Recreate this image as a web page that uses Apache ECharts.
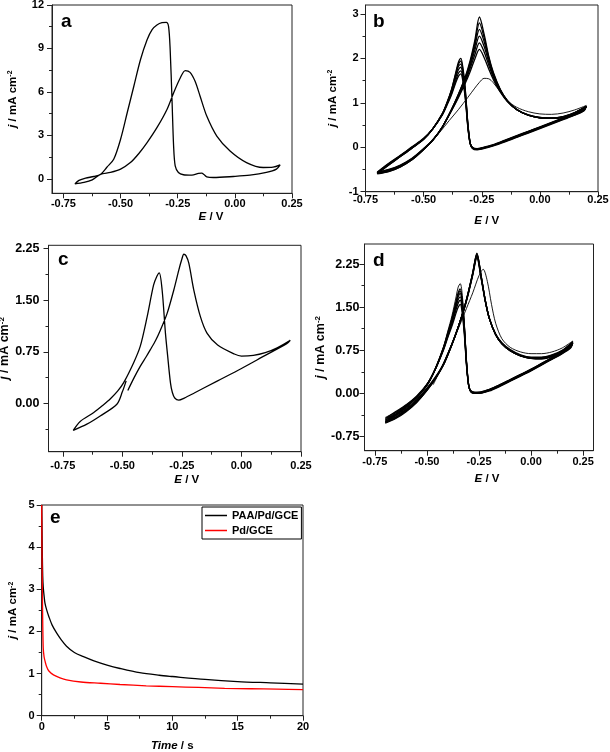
<!DOCTYPE html>
<html><head><meta charset="utf-8">
<script src="https://cdn.jsdelivr.net/npm/echarts@6/dist/echarts.min.js"></script>
<style>html,body{margin:0;padding:0;background:#fff}#c{width:610px;height:752px}</style>
</head><body><div id="c"></div>
<script>
// ---------- tick values ----------
const cvXTicks = [-0.75, -0.5, -0.25, 0, 0.25];
const cvXMinor = [-0.625, -0.375, -0.125, 0.125];
const aYTicks = [0, 3, 6, 9, 12];
const aYMinor = [1.5, 4.5, 7.5, 10.5];
const bYTicks = [-1, 0, 1, 2, 3];
const bYMinor = [-0.5, 0.5, 1.5, 2.5];
const cYTicks = [0, 0.75, 1.5, 2.25];
const cYMinor = [-0.375, 0.375, 1.125, 1.875];
const dYTicks = [-0.75, 0, 0.75, 1.5, 2.25];
const dYMinor = [-0.375, 0.375, 1.125, 1.875];
const eXTicks = [0, 5, 10, 15, 20];
const eXMinor = [2.5, 7.5, 12.5, 17.5];
const eYTicks = [0, 1, 2, 3, 4, 5];
const eYMinor = [0.5, 1.5, 2.5, 3.5, 4.5];

// ---------- panel a (single CV) ----------
const aEf = [-0.70,-0.66,-0.624,-0.588,-0.544,-0.50,-0.457,-0.42,-0.384,-0.341,-0.297,-0.268,-0.239,-0.217,-0.196,-0.174,-0.152,-0.123,-0.079,-0.021,0.051,0.124,0.167,0.198];
const aJf = [-0.35,-0.25,-0.07,0.30,0.44,0.67,1.12,1.75,2.50,3.53,4.79,5.93,6.96,7.47,7.35,6.73,5.70,4.33,2.95,1.92,1.12,0.78,0.80,0.96];
const aEr = [0.182,0.138,0.066,-0.007,-0.094,-0.123,-0.135,-0.145,-0.159,-0.188,-0.225,-0.247,-0.261,-0.268,-0.275,-0.283,-0.290,-0.300,-0.319,-0.341,-0.362,-0.384,-0.413,-0.442,-0.471,-0.50,-0.53,-0.56,-0.588,-0.617,-0.653,-0.682,-0.70];
const aJr = [0.67,0.44,0.25,0.16,0.09,0.14,0.30,0.39,0.37,0.25,0.28,0.44,0.89,2.27,5.47,8.91,10.51,10.80,10.78,10.62,10.30,9.60,8.22,6.39,4.56,2.73,1.35,0.80,0.30,0.16,0.05,-0.11,-0.35];

// ---------- panel b (multi-cycle CV) ----------
const bE = [-0.70,-0.65,-0.60,-0.55,-0.50,-0.46,-0.42,-0.38,-0.35,-0.32,-0.30,-0.28,-0.26,-0.24,-0.22,-0.20,-0.17,-0.14,-0.10,-0.05,0.00,0.05,0.10,0.15,0.20,
            0.19,0.15,0.10,0.05,0.00,-0.05,-0.10,-0.15,-0.20,-0.25,-0.27,-0.29,-0.30,-0.31,-0.32,-0.33,-0.34,-0.35,-0.36,-0.38,-0.40,-0.42,-0.46,-0.50,-0.55,-0.60,-0.65,-0.70];
const bJ1 = [-0.56,-0.50,-0.40,-0.25,-0.03,0.17,0.45,0.82,1.12,1.45,1.70,1.98,2.20,2.02,1.76,1.52,1.24,1.03,0.85,0.73,0.67,0.66,0.69,0.78,0.92,
             0.86,0.76,0.66,0.56,0.46,0.36,0.26,0.16,0.06,-0.01,-0.03,0.00,0.08,0.45,1.05,1.45,1.65,1.60,1.48,1.18,0.94,0.72,0.42,0.20,0.01,-0.18,-0.36,-0.56];
const bJ2 = [-0.57,-0.51,-0.41,-0.26,-0.04,0.17,0.45,0.83,1.14,1.49,1.77,2.08,2.35,2.15,1.85,1.57,1.26,1.04,0.85,0.73,0.67,0.66,0.69,0.78,0.92,
             0.85,0.75,0.65,0.55,0.45,0.35,0.25,0.15,0.05,-0.02,-0.04,-0.01,0.09,0.48,1.10,1.52,1.72,1.67,1.53,1.21,0.96,0.73,0.42,0.19,0.00,-0.19,-0.37,-0.57];
const bJ3 = [-0.58,-0.52,-0.42,-0.26,-0.04,0.16,0.45,0.84,1.16,1.52,1.83,2.18,2.50,2.27,1.92,1.61,1.27,1.04,0.85,0.72,0.66,0.65,0.68,0.77,0.92,
             0.85,0.75,0.65,0.55,0.45,0.35,0.25,0.15,0.05,-0.02,-0.04,-0.01,0.09,0.50,1.15,1.58,1.80,1.75,1.60,1.25,0.97,0.74,0.42,0.19,0.00,-0.19,-0.38,-0.58];
const bJ4 = [-0.58,-0.53,-0.43,-0.27,-0.05,0.16,0.45,0.84,1.18,1.55,1.87,2.26,2.65,2.38,1.98,1.64,1.28,1.05,0.85,0.72,0.66,0.65,0.68,0.77,0.92,
             0.84,0.74,0.64,0.54,0.44,0.34,0.24,0.14,0.04,-0.03,-0.05,-0.02,0.10,0.52,1.18,1.65,1.87,1.82,1.65,1.27,0.98,0.74,0.42,0.18,-0.01,-0.20,-0.39,-0.58];
const bJ5 = [-0.59,-0.54,-0.44,-0.28,-0.05,0.16,0.45,0.85,1.19,1.58,1.91,2.33,2.80,2.47,2.02,1.66,1.29,1.05,0.85,0.72,0.66,0.65,0.68,0.77,0.92,
             0.83,0.73,0.63,0.53,0.43,0.33,0.23,0.13,0.04,-0.03,-0.05,-0.02,0.10,0.54,1.22,1.70,1.94,1.87,1.69,1.29,0.99,0.75,0.42,0.18,-0.02,-0.21,-0.40,-0.59];
const bJ6 = [-0.60,-0.55,-0.44,-0.28,-0.05,0.16,0.45,0.85,1.20,1.60,1.95,2.40,2.93,2.55,2.05,1.68,1.30,1.05,0.85,0.72,0.66,0.65,0.68,0.77,0.92,
             0.82,0.72,0.62,0.52,0.42,0.32,0.22,0.12,0.03,-0.04,-0.06,-0.03,0.10,0.55,1.25,1.75,2.00,1.92,1.72,1.30,1.00,0.75,0.42,0.18,-0.02,-0.21,-0.40,-0.60];
const bE0 = [-0.47,-0.43,-0.39,-0.35,-0.31,-0.28,-0.26,-0.24,-0.22,-0.20,-0.17,-0.14,-0.10,-0.05,0.00,0.05,0.10,0.15,0.20];
const bJ0 = [0.10,0.34,0.60,0.85,1.12,1.33,1.46,1.55,1.54,1.45,1.24,1.05,0.90,0.80,0.75,0.74,0.77,0.84,0.94];

// ---------- panel c (single CV) ----------
const cEf = [-0.477,-0.45,-0.425,-0.40,-0.383,-0.36,-0.34,-0.312,-0.284,-0.263,-0.25,-0.242,-0.233,-0.221,-0.20,-0.172,-0.144,-0.10,-0.03,0.00,0.05,0.10,0.15,0.205];
const cJf = [0.19,0.38,0.54,0.68,0.78,0.92,1.07,1.31,1.65,1.94,2.10,2.17,2.15,2.04,1.65,1.26,1.02,0.85,0.72,0.69,0.70,0.74,0.81,0.92];
const cEr = [0.19,0.10,0.00,-0.10,-0.20,-0.24,-0.263,-0.28,-0.29,-0.298,-0.31,-0.319,-0.333,-0.345,-0.355,-0.369,-0.396,-0.425,-0.453,-0.495,-0.52,-0.55,-0.58,-0.62,-0.677,-0.706];
const cJr = [0.87,0.70,0.51,0.33,0.15,0.08,0.05,0.08,0.16,0.30,0.70,1.02,1.65,1.90,1.85,1.72,1.26,0.83,0.59,0.30,0.18,0.07,-0.02,-0.13,-0.26,-0.39];
const cEf2 = [-0.706,-0.649,-0.593,-0.523,-0.50,-0.484];
const cJf2 = [-0.39,-0.30,-0.18,-0.01,0.17,0.33];

// ---------- panel d (multi-cycle CV) ----------
const dE = [-0.70,-0.65,-0.60,-0.55,-0.50,-0.46,-0.42,-0.38,-0.35,-0.32,-0.30,-0.28,-0.26,-0.24,-0.22,-0.20,-0.17,-0.14,-0.10,-0.05,0.00,0.05,0.10,0.15,0.20,
            0.19,0.15,0.10,0.05,0.00,-0.05,-0.10,-0.15,-0.20,-0.25,-0.27,-0.29,-0.30,-0.31,-0.32,-0.33,-0.34,-0.35,-0.36,-0.38,-0.40,-0.42,-0.46,-0.50,-0.55,-0.60,-0.65,-0.70];
const dJ1 = [-0.44,-0.37,-0.26,-0.11,0.09,0.28,0.52,0.86,1.15,1.48,1.75,2.06,2.36,2.00,1.60,1.30,1.03,0.88,0.76,0.67,0.63,0.63,0.67,0.75,0.90,
             0.82,0.72,0.62,0.52,0.42,0.33,0.24,0.15,0.07,0.02,0.02,0.05,0.14,0.48,1.00,1.38,1.55,1.50,1.40,1.17,0.97,0.76,0.42,0.16,-0.05,-0.20,-0.32,-0.44];
const dJ2 = [-0.46,-0.39,-0.28,-0.13,0.08,0.27,0.51,0.86,1.15,1.49,1.76,2.07,2.38,2.02,1.61,1.30,1.03,0.87,0.75,0.66,0.62,0.62,0.66,0.74,0.89,
             0.81,0.71,0.61,0.51,0.41,0.32,0.23,0.14,0.06,0.01,0.01,0.04,0.14,0.50,1.05,1.45,1.62,1.57,1.46,1.21,0.99,0.77,0.42,0.15,-0.06,-0.21,-0.34,-0.47];
const dJ3 = [-0.48,-0.41,-0.29,-0.14,0.07,0.26,0.51,0.85,1.15,1.49,1.77,2.08,2.40,2.03,1.62,1.30,1.02,0.87,0.74,0.65,0.61,0.61,0.65,0.74,0.88,
             0.81,0.71,0.61,0.51,0.41,0.32,0.23,0.14,0.06,0.01,0.01,0.04,0.15,0.52,1.08,1.50,1.68,1.63,1.51,1.24,1.01,0.78,0.42,0.15,-0.07,-0.22,-0.36,-0.49];
const dJ4 = [-0.50,-0.42,-0.30,-0.15,0.06,0.26,0.50,0.85,1.15,1.50,1.78,2.09,2.42,2.04,1.62,1.30,1.02,0.86,0.74,0.65,0.61,0.61,0.65,0.73,0.88,
             0.80,0.70,0.60,0.50,0.40,0.31,0.22,0.13,0.05,0.00,0.00,0.03,0.15,0.53,1.11,1.54,1.74,1.68,1.55,1.27,1.03,0.79,0.42,0.14,-0.07,-0.23,-0.37,-0.50];
const dJ5 = [-0.51,-0.43,-0.31,-0.16,0.05,0.25,0.50,0.85,1.15,1.50,1.78,2.10,2.43,2.05,1.62,1.30,1.02,0.86,0.74,0.65,0.61,0.60,0.64,0.73,0.87,
             0.80,0.70,0.60,0.50,0.40,0.31,0.22,0.13,0.05,0.00,0.00,0.03,0.15,0.54,1.13,1.57,1.78,1.72,1.58,1.29,1.04,0.80,0.42,0.14,-0.08,-0.24,-0.38,-0.51];
const dJ6 = [-0.52,-0.44,-0.32,-0.16,0.05,0.25,0.50,0.85,1.15,1.50,1.78,2.10,2.44,2.05,1.62,1.30,1.02,0.86,0.74,0.65,0.61,0.60,0.64,0.73,0.87,
             0.79,0.69,0.59,0.49,0.39,0.30,0.21,0.12,0.04,0.00,0.00,0.03,0.15,0.55,1.15,1.60,1.82,1.75,1.60,1.30,1.05,0.80,0.42,0.14,-0.08,-0.24,-0.38,-0.52];
const dE0 = [-0.47,-0.43,-0.39,-0.35,-0.31,-0.28,-0.25,-0.23,-0.21,-0.19,-0.17,-0.14,-0.10,-0.05,0.00,0.05,0.10,0.15,0.20,
             0.19,0.15,0.10,0.05,0.00,-0.05,-0.10,-0.15,-0.20,-0.25,-0.27,-0.29,-0.30,-0.31,-0.32,-0.33,-0.34,-0.35,-0.36,-0.38,-0.40,-0.42,-0.46,-0.50,-0.55,-0.60,-0.65,-0.70];
const dJ0 = [0.15,0.45,0.78,1.12,1.48,1.75,2.05,2.16,1.95,1.55,1.22,0.95,0.80,0.72,0.69,0.69,0.72,0.79,0.91,
             0.83,0.72,0.62,0.52,0.42,0.33,0.24,0.15,0.07,0.02,0.01,0.04,0.14,0.55,1.20,1.70,1.91,1.85,1.68,1.35,1.08,0.82,0.44,0.16,-0.06,-0.21,-0.33,-0.42];

// ---------- panel e (chronoamperometry) ----------
const eTimeBlack = [0,0.02,0.05,0.08,0.12,0.18,0.25,0.38,0.55,0.8,1.15,1.5,1.9,2.5,3.2,4,5,6,7.5,9,10,12.5,15,17.5,20];
const eJBlack    = [5.0,4.5,3.8,3.3,3.05,2.85,2.67,2.51,2.35,2.15,1.96,1.8,1.65,1.5,1.4,1.3,1.2,1.12,1.02,0.96,0.93,0.86,0.81,0.78,0.75];
const eTimeRed   = [0,0.02,0.05,0.08,0.12,0.18,0.25,0.38,0.55,0.9,1.4,1.9,3,4.5,6,8,10,12,14,16,18,20];
const eJRed      = [5.0,4.0,3.0,2.2,1.6,1.4,1.3,1.16,1.06,0.97,0.9,0.85,0.8,0.77,0.74,0.71,0.69,0.67,0.65,0.64,0.63,0.62];
const eNames = ['PAA/Pd/GCE', 'Pd/GCE'];

// ---------- helpers ----------
const FONT = '"Liberation Sans", Arial, sans-serif';
function pairs(E, J) { return E.map((e, i) => [e, J[i]]); }
function titleStyle(sz, pad) {
  return {fontFamily: FONT, fontSize: sz, fontWeight: 'bold', color: '#000', padding: pad || 0,
    rich: {
      i: {fontFamily: FONT, fontSize: sz, fontWeight: 'bold', fontStyle: 'italic', color: '#000'},
      n: {fontFamily: FONT, fontSize: sz, fontWeight: 'bold', color: '#000'},
      s: {fontFamily: FONT, fontSize: Math.round(sz * 0.65), fontWeight: 'bold', color: '#000', verticalAlign: 'top', lineHeight: sz}
    }};
}
const YNAME = '{i|j}{n| / mA cm}{s|-2}';
const XNAME_E = '{i|E}{n| / V}';
const XNAME_T = '{i|Time}{n| / s}';

const panels = [
  {grid: {left: 52, top: 5, width: 240, height: 188.3},
   x: {min: -0.8, max: 0.25, major: cvXTicks, minor: cvXMinor, dec: 2, margin: 5, fs: 11, name: XNAME_E, tsz: 11.5, gap: 18, pad: [0, 0, 0, 78]},
   y: {min: -1, max: 12, major: aYTicks, minor: aYMinor, dec: 0, margin: 8, fs: 11, name: YNAME, tsz: 11.5, gap: 33},
   letter: 'a', lx: 61, ly: 21.3},
  {grid: {left: 365.5, top: 5, width: 232.5, height: 186.7},
   x: {min: -0.75, max: 0.25, major: cvXTicks, minor: cvXMinor, dec: 2, margin: 2.5, fs: 11, name: XNAME_E, tsz: 11.5, gap: 23, pad: [0, 0, 0, 10]},
   y: {min: -1, max: 3.2, major: bYTicks, minor: bYMinor, dec: 0, margin: 7, fs: 11, name: YNAME, tsz: 11.5, gap: 26.5},
   letter: 'b', lx: 373, ly: 21.3},
  {grid: {left: 48.5, top: 245.3, width: 252.5, height: 206.4},
   x: {min: -0.81, max: 0.25, major: cvXTicks, minor: cvXMinor, dec: 2, margin: 8.5, fs: 11, name: XNAME_E, tsz: 11.5, gap: 22.5, pad: [0, 0, 0, 24]},
   y: {min: -0.7, max: 2.3, major: cYTicks, minor: cYMinor, dec: 2, margin: 9, fs: 12.5, name: YNAME, tsz: 12.5, gap: 30},
   letter: 'c', lx: 58, ly: 259.4},
  {grid: {left: 364.5, top: 244, width: 229, height: 206.7},
   x: {min: -0.8, max: 0.3, major: cvXTicks, minor: cvXMinor, dec: 2, margin: 6, fs: 11, name: XNAME_E, tsz: 11.5, gap: 22.5, pad: [0, 0, 0, 16]},
   y: {min: -1, max: 2.6, major: dYTicks, minor: dYMinor, dec: 2, margin: 5, fs: 12.5, name: YNAME, tsz: 12.5, gap: 25.5},
   letter: 'd', lx: 373, ly: 260.4},
  {grid: {left: 41.7, top: 505, width: 261.3, height: 210.7},
   x: {min: 0, max: 20, major: eXTicks, minor: eXMinor, dec: 0, margin: 6, fs: 11, name: XNAME_T, tsz: 11.5, gap: 24, pad: 0},
   y: {min: 0, max: 5, major: eYTicks, minor: eYMinor, dec: 0, margin: 7, fs: 11, name: YNAME, tsz: 11.5, gap: 22.5},
   letter: 'e', lx: 50, ly: 517.4}
];

function majorAxis(dim, i, c) {
  return {
    type: 'value', gridIndex: i, min: c.min, max: c.max, position: dim === 'x' ? 'bottom' : 'left',
    axisLine: {show: true, onZero: false, lineStyle: {color: '#222', width: 1}},
    axisTick: {show: true, inside: false, length: 5, customValues: c.major, lineStyle: {color: '#222', width: 1}},
    axisLabel: {show: true, customValues: c.major, margin: c.margin, hideOverlap: false,
      formatter: v => Number(v).toFixed(c.dec), color: '#000', fontFamily: FONT, fontSize: c.fs, fontWeight: 'bold'},
    splitLine: {show: false}, minorTick: {show: false}, minorSplitLine: {show: false},
    name: c.name, nameLocation: 'middle', nameGap: c.gap, nameRotate: dim === 'y' ? 90 : 0,
    nameTextStyle: titleStyle(c.tsz, c.pad)
  };
}
function minorAxis(dim, i, c) {
  return {
    type: 'value', gridIndex: i, min: c.min, max: c.max, position: dim === 'x' ? 'bottom' : 'left',
    axisLine: {show: false, onZero: false},
    axisTick: {show: true, inside: false, length: 3, customValues: c.minor, lineStyle: {color: '#222', width: 1}},
    axisLabel: {show: false}, splitLine: {show: false}, name: ''
  };
}

const grids = [], xAxes = [], yAxes = [], graphics = [];
panels.forEach((p, i) => {
  grids.push(Object.assign({show: true, borderColor: '#222', borderWidth: 1, backgroundColor: 'transparent',
    containLabel: false, outerBoundsMode: 'none'}, p.grid));
  xAxes.push(majorAxis('x', i, p.x), minorAxis('x', i, p.x));
  yAxes.push(majorAxis('y', i, p.y), minorAxis('y', i, p.y));
  graphics.push({type: 'text', x: p.lx, y: p.ly, silent: true,
    style: {text: p.letter, fill: '#000', font: 'bold 19px ' + FONT, fontSize: 19, fontWeight: 'bold', fontFamily: FONT,
      textAlign: 'left', textVerticalAlign: 'middle', align: 'left', verticalAlign: 'middle'}});
});

function line(i, data, width, color, name, smooth) {
  const s = {type: 'line', xAxisIndex: 2 * i, yAxisIndex: 2 * i, data: data, symbol: 'none', showSymbol: false,
    smooth: smooth === undefined ? 0.3 : smooth, lineStyle: {color: color || '#000', width: width},
    itemStyle: {color: color || '#000'}, silent: true, animation: false, clip: true, z: 3};
  if (name) s.name = name;
  return s;
}

const series = [
  line(0, pairs(aEf, aJf).concat(pairs(aEr, aJr)), 1.3),
  line(1, pairs(bE0, bJ0), 0.9),
  line(1, pairs(bE, bJ1), 1.3), line(1, pairs(bE, bJ2), 1.3), line(1, pairs(bE, bJ3), 1.3),
  line(1, pairs(bE, bJ4), 1.3), line(1, pairs(bE, bJ5), 1.3), line(1, pairs(bE, bJ6), 1.3),
  line(2, pairs(cEf, cJf).concat(pairs(cEr, cJr), pairs(cEf2, cJf2)), 1.3),
  line(3, pairs(dE0, dJ0), 0.9),
  line(3, pairs(dE, dJ1), 1.3), line(3, pairs(dE, dJ2), 1.3), line(3, pairs(dE, dJ3), 1.3),
  line(3, pairs(dE, dJ4), 1.3), line(3, pairs(dE, dJ5), 1.3), line(3, pairs(dE, dJ6), 1.3),
  line(4, pairs(eTimeBlack, eJBlack), 1.3, '#000', eNames[0], 0.3),
  line(4, pairs(eTimeRed, eJRed), 1.3, '#ff0000', eNames[1], 0.3)
];

const chart = echarts.init(document.getElementById('c'), null, {renderer: 'canvas'});
chart.setOption({
  animation: false,
  backgroundColor: '#fff',
  grid: grids, xAxis: xAxes, yAxis: yAxes, series: series, graphic: graphics,
  legend: {show: true, data: eNames, orient: 'vertical', left: 202, top: 507, icon: 'rect', itemWidth: 22, itemHeight: 1.5, itemGap: 4,
    padding: [3, 3, 3, 3], borderColor: '#000', borderWidth: 1, backgroundColor: '#fff', selectedMode: false,
    textStyle: {fontFamily: FONT, fontSize: 11, fontWeight: 'bold', color: '#000', lineHeight: 11}}
});
</script></body></html>
